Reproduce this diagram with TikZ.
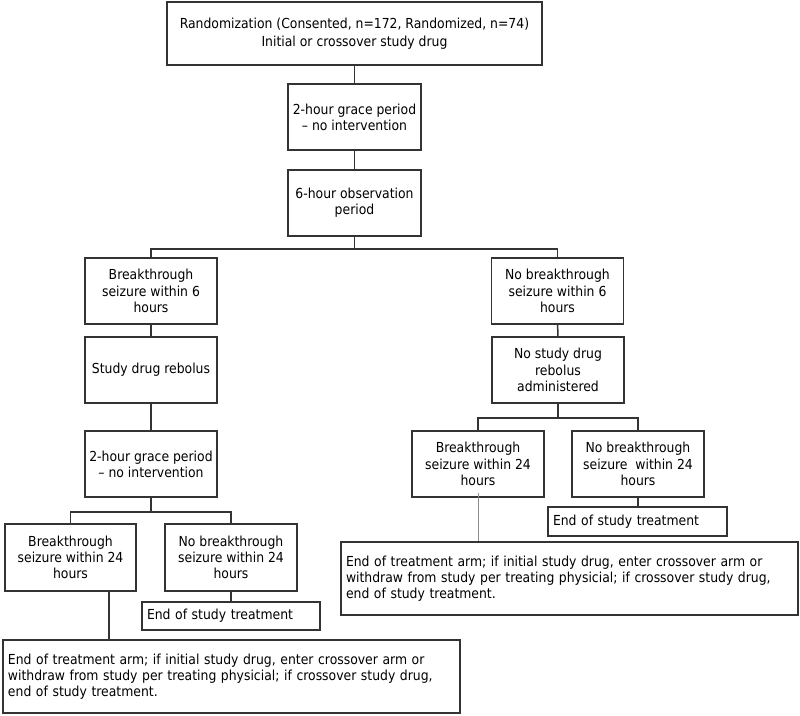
\documentclass[tikz,border=0pt]{standalone}
\usepackage{fontspec}
\setmainfont{DejaVu Sans Condensed}
\usetikzlibrary{
  positioning,
  calc
}
\definecolor{lineGray}{rgb}{0.2,0.2,0.2}
\definecolor{thinGray}{rgb}{0.55,0.55,0.55}
\tikzset{
  box/.style={
    draw=lineGray,
    line width=1.5pt,
    align=center,
    inner sep=0pt,
    minimum width=132pt,
    minimum height=66pt,
    font=\fontsize{13.8}{16.2}\selectfont
  },
  notebox/.style={
    box,
    align=left,
    inner xsep=5pt,
    minimum width=0pt
  }
}

\begin{document}
\begin{tikzpicture}[
      x=1pt, y=-1pt,
      link/.style={draw=lineGray, line width=1.5pt}
      ]
      \useasboundingbox (0,0) rectangle (800,715);

      \node[box, minimum width=375pt, minimum height=63pt] (rand) at (354.5,33.5)
        {Randomization (Consented, n=172, Randomized, n=74)\\[1.5pt]Initial or crossover study drug};
      \node[box, minimum width=133pt] (grace1) at (354.5,117) {2-hour grace period\\-- no intervention};
      \node[box, minimum width=133pt] (obs) at (354.5,203) {6-hour observation\\period};

      % left arm
      \node[box] (bt6) at (151,291) {Breakthrough\\seizure within 6\\hours};
      \node[box] (rebolus) at (151,370) {Study drug rebolus};
      \node[box] (grace2) at (151,464) {2-hour grace period\\-- no intervention};
      \node[box, minimum width=131pt, minimum height=67pt] (bt24a) at (70.5,557.5)
        {Breakthrough\\seizure within 24\\hours};
      \node[box, minimum height=67pt] (nbt24a) at (231,557.5) {No breakthrough\\seizure within 24\\hours};
      \node[notebox, text width=168pt, minimum height=28pt] (enda) at (231,616) {End of study treatment};
      \node[notebox, text width=447pt, minimum height=73pt] (arma) at (231.5,676.5)
        {End of treatment arm; if initial study drug, enter crossover arm or\\
         withdraw from study per treating physicial; if crossover study drug,\\
         end of study treatment.};

      % right arm
      \node[box] (nbt6) at (557.5,291) {No breakthrough\\seizure within 6\\hours};
      \node[box] (norebolus) at (558,370) {No study drug\\rebolus\\administered};
      \node[box] (bt24b) at (478,464) {Breakthrough\\seizure within 24\\hours};
      \node[box] (nbt24b) at (638,464) {No breakthrough\\seizure\ \ within 24\\hours};
      \node[notebox, text width=169pt, minimum height=29pt] (endb) at (637.5,521.5) {End of study treatment};
      \node[notebox, text width=447pt, minimum height=73pt] (armb) at (569.5,578.5)
        {End of treatment arm; if initial study drug, enter crossover arm or\\
         withdraw from study per treating physicial; if crossover study drug,\\
         end of study treatment.};

      \draw[link] (rand) -- (grace1);
      \draw[link] (grace1) -- (obs);
      \draw[link] (obs.south) -- ++(0,12) coordinate (split1);
      \draw[link] (split1) -| (bt6.north);
      \draw[link] (split1) -| (nbt6.north);

      \draw[link] (bt6) -- (rebolus);
      \draw[link] (rebolus) -- (grace2);
      \draw[link] (grace2.south) -- ++(0,14) coordinate (split2);
      \draw[link] (split2) -| (bt24a.north);
      \draw[link] (split2) -| (nbt24a.north);
      \draw[link] (nbt24a.south) -- (enda.north -| nbt24a.south);
      \draw[link] ([xshift=38.5pt]bt24a.south) -- ([xshift=38.5pt]bt24a.south |- arma.north);

      \draw[link] (nbt6) -- (norebolus);
      \draw[link] (norebolus.south) -- ++(0,14) coordinate (split3);
      \draw[link] (split3) -| (bt24b.north);
      \draw[link] (split3) -| (nbt24b.north);
      \draw[link] (nbt24b.south) -- (endb.north -| nbt24b.south);
      \draw[draw=thinGray, line width=0.9pt] ([yshift=5pt]bt24b.south) -- (bt24b.south |- armb.north);
    \end{tikzpicture}
\end{document}
